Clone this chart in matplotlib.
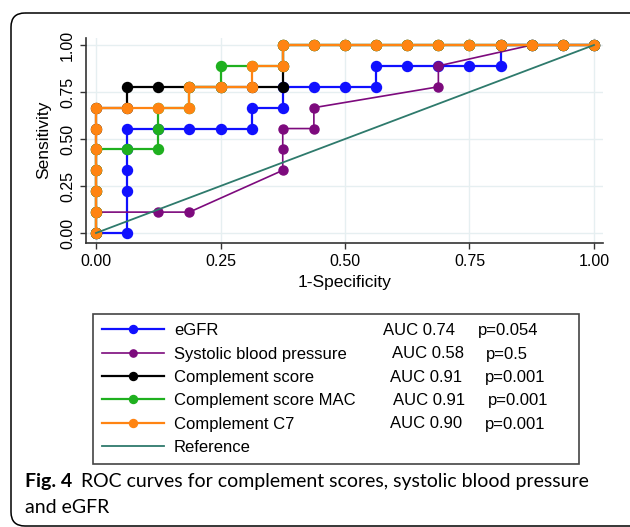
import numpy as np
import matplotlib.pyplot as plt
from matplotlib.patches import FancyBboxPatch

W, H = 630, 527

# ROC points (1-specificity, sensitivity)
egfr_x = [0, 0.0625, 0.0625, 0.0625, 0.0625, 0.0625, 0.125, 0.1875, 0.25, 0.3125, 0.3125, 0.375, 0.375,
          0.4375, 0.5, 0.5625, 0.5625, 0.625, 0.6875, 0.75, 0.8125, 0.8125, 0.875, 0.9375, 1.0]
egfr_y = [0, 0, 0.2222, 0.3333, 0.4444, 0.5556, 0.5556, 0.5556, 0.5556, 0.5556, 0.6667, 0.6667, 0.7778,
          0.7778, 0.7778, 0.7778, 0.8889, 0.8889, 0.8889, 0.8889, 0.8889, 1, 1, 1, 1]

sbp_x = [0, 0, 0.125, 0.1875, 0.375, 0.375, 0.375, 0.4375, 0.4375, 0.6875, 0.6875, 0.875, 0.9375, 1.0]
sbp_y = [0, 0.1111, 0.1111, 0.1111, 0.3333, 0.4444, 0.5556, 0.5556, 0.6667, 0.7778, 0.8889, 1, 1, 1]

cs_x = [0, 0, 0, 0, 0, 0, 0, 0.0625, 0.0625, 0.125, 0.1875, 0.25, 0.3125, 0.375, 0.375, 0.375,
        0.4375, 0.5, 0.5625, 0.625, 0.6875, 0.75, 0.8125, 0.875, 0.9375, 1.0]
cs_y = [0, 0.1111, 0.2222, 0.3333, 0.4444, 0.5556, 0.6667, 0.6667, 0.7778, 0.7778, 0.7778, 0.7778, 0.7778,
        0.7778, 0.8889, 1, 1, 1, 1, 1, 1, 1, 1, 1, 1, 1]

mac_x = [0, 0, 0, 0, 0, 0.0625, 0.125, 0.125, 0.125, 0.1875, 0.1875, 0.25, 0.25, 0.3125, 0.375, 0.375,
         0.4375, 0.5, 0.5625, 0.625, 0.6875, 0.75, 0.8125, 0.875, 0.9375, 1.0]
mac_y = [0, 0.1111, 0.2222, 0.3333, 0.4444, 0.4444, 0.4444, 0.5556, 0.6667, 0.6667, 0.7778, 0.7778, 0.8889,
         0.8889, 0.8889, 1, 1, 1, 1, 1, 1, 1, 1, 1, 1, 1]

c7_x = [0, 0, 0, 0, 0, 0, 0, 0.0625, 0.125, 0.1875, 0.1875, 0.25, 0.3125, 0.3125, 0.375, 0.375,
        0.4375, 0.5, 0.5625, 0.625, 0.6875, 0.75, 0.8125, 0.875, 0.9375, 1.0]
c7_y = [0, 0.1111, 0.2222, 0.3333, 0.4444, 0.5556, 0.6667, 0.6667, 0.6667, 0.6667, 0.7778, 0.7778, 0.7778,
        0.8889, 0.8889, 1, 1, 1, 1, 1, 1, 1, 1, 1, 1, 1]

ref_x = [0, 1]
ref_y = [0, 1]

names = ['eGFR', 'Systolic blood pressure', 'Complement score', 'Complement score MAC', 'Complement C7']
auc_txt = ['AUC 0.74', 'AUC 0.58', 'AUC 0.91', 'AUC 0.91', 'AUC 0.90']
p_txt = ['p=0.054', 'p=0.5', 'p=0.001', 'p=0.001', 'p=0.001']
ticks = [0, 0.25, 0.5, 0.75, 1.0]
tick_labels = ['0.00', '0.25', '0.50', '0.75', '1.00']

# text positions in the legend (pixels)
auc_xpos = [383, 392, 390, 393, 390]
p_xpos = [478, 486, 485, 488, 485]

def fx(x):
    return x / W

def fy(y):
    return 1 - y / H

plt.rcParams['font.family'] = ['Liberation Sans', 'DejaVu Sans']

fig = plt.figure(figsize=(W / 100, H / 100), dpi=100)

# outer rounded frame
bg = fig.add_axes([0, 0, 1, 1], zorder=-5)
bg.set_xlim(0, W)
bg.set_ylim(H, 0)
bg.axis('off')
bg.add_patch(FancyBboxPatch((11, 13), 640, 513, boxstyle='round,pad=0,rounding_size=14',
                            fc='none', ec='black', lw=1.1))

ax = fig.add_axes([fx(86), fy(243), (602.7 - 86) / W, (243 - 37.5) / H])
ax.set_xlim(-0.0201, 1.0175)
ax.set_ylim(-0.0532, 1.04)

lw = 1.6
ms = 7.2
l1, = ax.plot(egfr_x, egfr_y, color='#1010ff', lw=lw, marker='o', ms=ms, zorder=3)
l2, = ax.plot(sbp_x, sbp_y, color='#7d0a7d', lw=1.2, marker='o', ms=6.5, zorder=4)
l3, = ax.plot(cs_x, cs_y, color='black', lw=lw, marker='o', ms=ms, zorder=5)
l4, = ax.plot(mac_x, mac_y, color='#1fb01f', lw=lw, marker='o', ms=ms, zorder=6)
l5, = ax.plot(c7_x, c7_y, color='#ff8412', lw=lw, marker='o', ms=ms, zorder=7)
l6, = ax.plot(ref_x, ref_y, color='#2e7a6c', lw=1.3, zorder=8)

ax.grid(True, color='#e6eff1', lw=1.0)
ax.set_axisbelow(True)
for s in ['top', 'right']:
    ax.spines[s].set_visible(False)
for s in ['left', 'bottom']:
    ax.spines[s].set_color('#333333')
    ax.spines[s].set_linewidth(1.2)
ax.set_xticks(ticks)
ax.set_xticklabels(tick_labels)
ax.set_yticks(ticks)
ax.set_yticklabels(tick_labels, rotation=90, va='center')
ax.tick_params(length=4, width=1, color='#333333', labelsize=11.5, pad=4)
ax.set_xlabel('1-Specificity', fontsize=12.5, labelpad=4)
ax.set_ylabel('Sensitivity', fontsize=12.5, labelpad=6)

leg = fig.legend([l1, l2, l3, l4, l5, l6], names + ['Reference'],
                 loc='upper left', bbox_to_anchor=(fx(93), fy(462), (579 - 93) / W, (462 - 314) / H),
                 mode='expand', borderaxespad=0, fontsize=12, frameon=True, fancybox=False,
                 framealpha=1, edgecolor='#444444', handlelength=3.7, handletextpad=0.6,
                 borderpad=0.55, labelspacing=0.5, markerscale=0.8)
leg.get_frame().set_linewidth(1.2)

# put AUC / p values on the same rows as the legend entries
fig.canvas.draw()
for i, txt in enumerate(leg.get_texts()[:len(names)]):
    b = txt.get_window_extent()
    yc = (b.y0 + b.y1) / 2 / H
    fig.text(fx(auc_xpos[i]), yc, auc_txt[i], fontsize=12, va='center', zorder=10)
    fig.text(fx(p_xpos[i]), yc, p_txt[i], fontsize=12, va='center', zorder=10)

# caption
cap_font = 'Lato'
t1 = fig.text(fx(25), fy(487), 'Fig. 4', fontsize=14, fontweight='bold', family=cap_font, va='baseline')
fig.canvas.draw()
bb = t1.get_window_extent()
fig.text((bb.x1 + 9) / W, fy(487), 'ROC curves for complement scores, systolic blood pressure',
         fontsize=14, family=cap_font, va='baseline')
fig.text(fx(25), fy(513), 'and eGFR', fontsize=14, family=cap_font, va='baseline')

fig.savefig('out.png', dpi=100)
